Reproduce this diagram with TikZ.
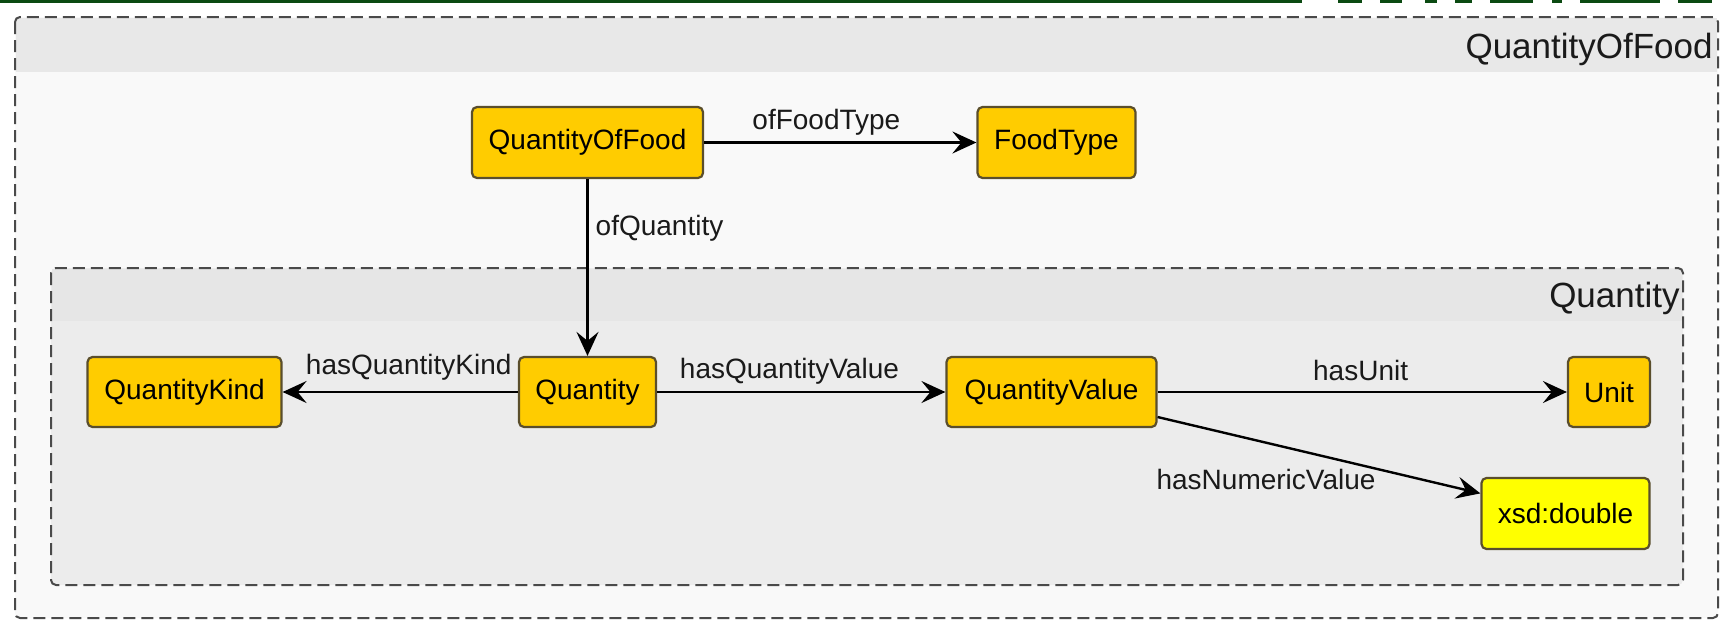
\documentclass[tikz,border=0pt]{standalone}
\usepackage{fontspec}
\setmainfont{Liberation Sans}
\usetikzlibrary{arrows.meta}
\definecolor{gold}{HTML}{FFCC00}
\definecolor{lit}{HTML}{FFFF00}
\definecolor{nodeborder}{HTML}{5A4E2C}
\definecolor{topgreen}{HTML}{0B4A12}
\definecolor{outerhead}{HTML}{E8E8E8}
\definecolor{outerbody}{HTML}{F9F9F9}
\definecolor{innerhead}{HTML}{E6E6E6}
\definecolor{innerbody}{HTML}{ECECEC}
\definecolor{dashcol}{HTML}{4A4A4A}
\definecolor{txt}{HTML}{1A1A1A}
\tikzset{
  cls/.style={draw=nodeborder, fill=gold, line width=1.1pt, rounded corners=2.5pt,
    minimum height=35.5pt, inner sep=0pt, text=black,
    font=\fontsize{14pt}{16pt}\selectfont},
  litcls/.style={cls, fill=lit},
  container/.style={draw=dashcol, line width=1pt, dash pattern=on 6pt off 3pt, rounded corners=2.5pt},
  edge/.style={draw=black, line width=1.2pt, -{Stealth[length=12pt,width=11pt,inset=4.5pt]}},
  lbl/.style={inner sep=0pt, text=txt, font=\fontsize{14pt}{16pt}\selectfont},
  ttl/.style={inner sep=0pt, text=txt, font=\fontsize{17.5pt}{20pt}\selectfont}
}
\begin{document}
\begin{tikzpicture}[x=0.5pt,y=-0.5pt]
\useasboundingbox (0,0) rectangle (1721,621);
\fill[white] (0,0) rectangle (1721,621);
% cropped green strip at top
\fill[topgreen] (0,0) rectangle (1302,3);
\foreach \a/\b in {1338/1362,1380/1402,1425/1437,1455/1472,1490/1533,1552/1562,1580/1660,1678/1712}
  \fill[topgreen] (\a,0) rectangle (\b,3);
% outer container
\fill[outerbody, rounded corners=2.5pt] (15,17) rectangle (1718,618);
\fill[outerhead] (16,18) rectangle (1717,72);
\draw[container] (15,17) rectangle (1718,618);
\node[ttl, anchor=base east] (tOuter) at (1713,58) {QuantityOfFood};
% inner container
\fill[innerbody, rounded corners=2.5pt] (51,268) rectangle (1683,585);
\fill[innerhead] (52,269) rectangle (1682,321);
\draw[container] (51,268) rectangle (1683,585);
\node[ttl, anchor=base east] (tInner) at (1680,307) {Quantity};
% classes
\node[cls, minimum width=115.5pt] (qof) at (587.5,142.5) {QuantityOfFood};
\node[cls, minimum width=79pt] (foodtype) at (1056.5,142.5) {FoodType};
\node[cls, minimum width=97pt, minimum height=35pt] (qk) at (184.5,392) {QuantityKind};
\node[cls, minimum width=68.5pt, minimum height=35pt] (quantity) at (587.5,392) {Quantity};
\node[cls, minimum width=105pt, minimum height=35pt] (qv) at (1051.5,392) {QuantityValue};
\node[cls, minimum width=41pt, minimum height=35pt] (unit) at (1609,392) {Unit};
\node[litcls, minimum width=84pt] (xsd) at (1565.5,513.5) {xsd:double};
% properties
\draw[edge] (qof) -- node[lbl, pos=0.449, anchor=base, yshift=6.5pt] {ofFoodType} (foodtype);
\draw[edge] (qof) -- node[lbl, pos=0.318, anchor=base west, xshift=3.5pt] {ofQuantity} (quantity);
\draw[edge] (quantity) -- node[lbl, pos=0.464, anchor=base, yshift=9pt] {hasQuantityKind} (qk);
\draw[edge] (quantity) -- node[lbl, pos=0.459, anchor=base, yshift=7pt] {hasQuantityValue} (qv);
\draw[edge] (qv) -- node[lbl, pos=0.496, anchor=base, yshift=6pt] {hasUnit} (unit);
\draw[edge] (qv) -- node[lbl, pos=0.336, anchor=base, yshift=-23.5pt] {hasNumericValue} (xsd);
\end{tikzpicture}
\end{document}
